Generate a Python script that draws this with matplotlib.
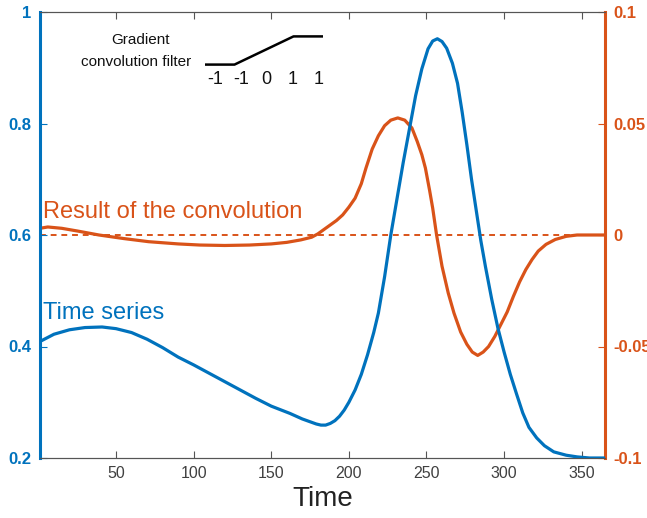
import numpy as np
import matplotlib
matplotlib.use("Agg")
import matplotlib.pyplot as plt

plt.rcParams['font.family'] = ['Liberation Sans', 'DejaVu Sans']

# time series (left axis)
ts_x = [1, 10, 20, 30, 41, 50, 60, 70, 80, 90, 100, 110, 120, 130, 140, 150, 162, 170, 176, 179,
        182, 185, 188, 191, 194, 197, 200, 204, 208, 212, 216, 219, 223, 227, 231, 235, 239, 243,
        247, 251, 254, 257, 260, 263, 266.7, 270, 273, 276, 279, 282, 285, 288, 292, 296, 300, 304,
        308, 312, 316, 321, 326, 332, 340, 347, 355, 365]
ts_y = [0.409, 0.422, 0.430, 0.434, 0.435, 0.432, 0.425, 0.413, 0.398, 0.381, 0.367, 0.352, 0.337,
        0.322, 0.307, 0.293, 0.280, 0.270, 0.264, 0.261, 0.259, 0.259, 0.262, 0.267, 0.275, 0.286,
        0.300, 0.322, 0.350, 0.385, 0.425, 0.460, 0.525, 0.600, 0.665, 0.730, 0.790, 0.850, 0.898,
        0.934, 0.948, 0.952, 0.947, 0.935, 0.908, 0.872, 0.820, 0.762, 0.700, 0.645, 0.590, 0.543,
        0.485, 0.433, 0.390, 0.350, 0.315, 0.281, 0.255, 0.236, 0.222, 0.211, 0.205, 0.202, 0.200,
        0.200]

# convolution result (right axis)
cv_x = [1, 6, 15, 25, 39, 55, 71, 90, 104, 120, 136, 150, 160, 169, 176, 180, 184, 188, 192, 196,
        200, 204, 208, 211, 215, 219, 223, 227, 231.5, 236, 240.6, 244, 247, 249.3, 252, 254, 256.5,
        260, 264, 267.7, 272, 276, 279.5, 283, 286.5, 290, 294, 298, 302, 306, 310, 314, 318, 322,
        327, 333, 340, 347, 365]
cv_y = [0.003, 0.0036, 0.003, 0.0018, 0.0, -0.0016, -0.003, -0.004, -0.0045, -0.0047, -0.0045,
        -0.004, -0.0033, -0.0022, -0.001, 0.0005, 0.0025, 0.0045, 0.0065, 0.009, 0.0125, 0.0165,
        0.023, 0.030, 0.0385, 0.0445, 0.049, 0.0515, 0.0525, 0.0515, 0.048, 0.042, 0.036, 0.030,
        0.020, 0.012, 0.0, -0.014, -0.026, -0.035, -0.0435, -0.049, -0.0525, -0.054, -0.0525,
        -0.050, -0.0455, -0.040, -0.0345, -0.0275, -0.021, -0.0155, -0.011, -0.0072, -0.0042,
        -0.002, -0.0006, 0.0, 0.0]

filt = [-1, -1, 0, 1, 1]
x_ticks = [50, 100, 150, 200, 250, 300, 350]
left_ticks = [0.2, 0.4, 0.6, 0.8, 1.0]
left_labels = ['0.2', '0.4', '0.6', '0.8', '1']
right_ticks = [-0.1, -0.05, 0, 0.05, 0.1]
right_labels = ['-0.1', '-0.05', '0', '0.05', '0.1']

blue = '#0072BD'
orange = '#D95319'
gray = '#404040'

fig = plt.figure(figsize=(6.47, 5.18), dpi=100)
ax = fig.add_axes([40 / 647, 60 / 518, 565 / 647, 446 / 518])
ax2 = ax.twinx()

ax.plot(ts_x, ts_y, color=blue, lw=2.3, zorder=3, solid_joinstyle='round')
ax2.plot(cv_x, cv_y, color=orange, lw=2.3, solid_joinstyle='round')
ax2.axhline(0, color=orange, lw=1.4, ls=(0, (3, 2.5)))

ax.set_xlim(1, 365)
ax.set_ylim(0.2, 1.0)
ax2.set_ylim(-0.1, 0.1)
ax.set_zorder(ax2.get_zorder() + 1)
ax.patch.set_visible(False)

ax.set_xticks(x_ticks)
ax.set_xticklabels([str(v) for v in x_ticks], color=gray, fontsize=11.5)
ax.set_yticks(left_ticks)
ax.set_yticklabels(left_labels, color=blue, fontsize=12, fontweight='bold')
ax2.set_yticks(right_ticks)
ax2.set_yticklabels(right_labels, color=orange, fontsize=12, fontweight='bold')

ax.tick_params(axis='x', direction='in', top=True, length=5, color='#555555', pad=6)
ax.tick_params(axis='y', direction='in', length=5, color=blue, pad=6)
ax2.tick_params(axis='y', direction='in', length=5, color=orange, pad=6)

for a in (ax, ax2):
    a.spines['top'].set_color('#555555')
    a.spines['bottom'].set_color('#555555')
    a.spines['top'].set_linewidth(0.8)
    a.spines['bottom'].set_linewidth(0.8)
ax.spines['left'].set_color(blue)
ax.spines['left'].set_linewidth(2.2)
ax.spines['right'].set_visible(False)
ax2.spines['left'].set_visible(False)
ax2.spines['right'].set_color(orange)
ax2.spines['right'].set_linewidth(2.2)

ax.set_xlabel('Time', fontsize=20, color='#222222', labelpad=3)

ax.text(3, 0.641, 'Result of the convolution', color=orange, fontsize=17, va='center', ha='left')
ax.text(3, 0.46, 'Time series', color=blue, fontsize=17, va='center', ha='left')
fig.text(140 / 647, 1 - 40 / 518, 'Gradient', fontsize=11, ha='center', va='center', color='#111111')
fig.text(136 / 647, 1 - 62 / 518, 'convolution filter', fontsize=11, ha='center', va='center', color='#111111')

# little sketch of the filter
fax = fig.add_axes([205 / 647, 1 - 66 / 518, 118 / 647, 31 / 518])
fax.plot(range(len(filt)), filt, color='black', lw=1.8)
fax.set_xlim(0, len(filt) - 1)
fax.set_ylim(-1.1, 1.1)
fax.axis('off')
for i, v in enumerate(filt):
    fig.text((215 + i * 25.8) / 647, 1 - 79 / 518, str(v), fontsize=13, ha='center', va='center', color='#111111')

fig.savefig('out.png', dpi=100)
